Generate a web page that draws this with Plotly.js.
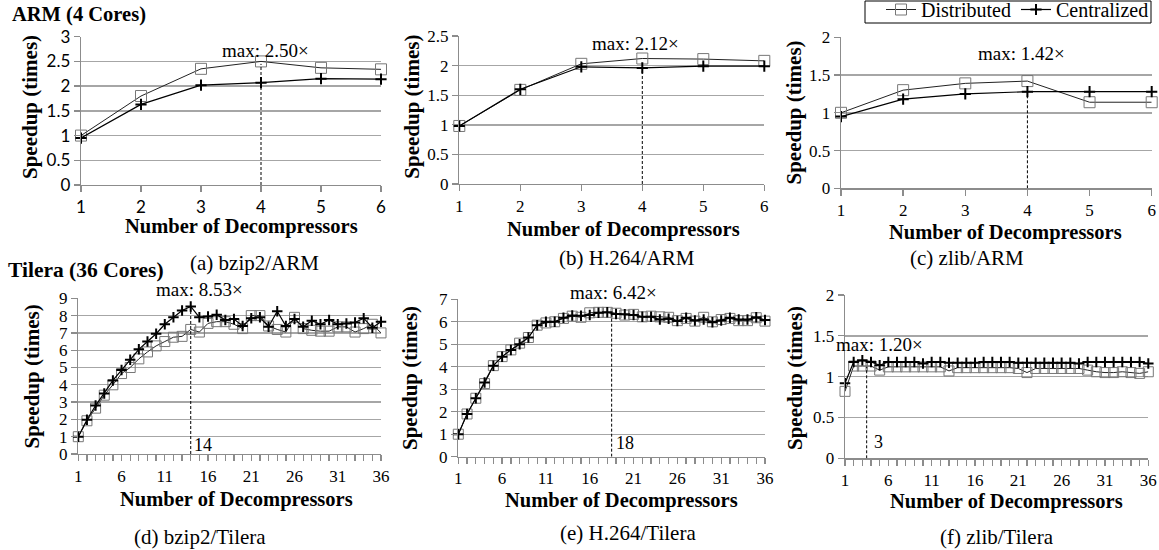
<!DOCTYPE html>
<html><head><meta charset="utf-8">
<script src="https://cdn.plot.ly/plotly-3.0.1.min.js"></script>
<style>html,body{margin:0;padding:0;background:#fff}#chart{width:1159px;height:550px}</style>
</head><body><div id="chart"></div>
<script>
// ---------- data ----------
const xArm = [1, 2, 3, 4, 5, 6];
const xTilera = [1,2,3,4,5,6,7,8,9,10,11,12,13,14,15,16,17,18,19,20,21,22,23,24,25,26,27,28,29,30,31,32,33,34,35,36];
const tileraTickVals = [1, 6, 11, 16, 21, 26, 31, 36];
const tileraTickText = ['1', '6', '11', '16', '21', '26', '31', '36'];

const bzip2ArmDist = [1.00, 1.80, 2.35, 2.50, 2.37, 2.34];
const bzip2ArmCent = [0.95, 1.63, 2.02, 2.07, 2.15, 2.14];
const h264ArmDist  = [0.98, 1.59, 2.03, 2.12, 2.11, 2.08];
const h264ArmCent  = [0.98, 1.60, 1.98, 1.96, 1.99, 1.99];
const zlibArmDist  = [1.00, 1.30, 1.39, 1.42, 1.14, 1.14];
const zlibArmCent  = [0.95, 1.18, 1.25, 1.28, 1.28, 1.28];

const bzip2TilDist = [1.00,1.92,2.65,3.40,4.00,4.65,5.00,5.50,5.90,6.25,6.50,6.75,6.80,7.20,7.05,7.55,7.65,7.65,7.50,7.25,8.00,8.00,7.40,7.20,7.05,7.90,7.25,7.15,7.10,7.10,7.35,7.35,7.05,7.25,7.50,7.00];
const bzip2TilCent = [1.00,1.98,2.80,3.50,4.25,4.85,5.45,6.05,6.50,6.95,7.50,7.90,8.30,8.53,7.90,7.95,8.05,7.75,7.80,7.40,7.85,7.90,7.35,8.25,7.40,7.80,7.35,7.70,7.50,7.75,7.50,7.55,7.60,7.85,7.30,7.65];
const h264TilDist  = [1.00,1.90,2.60,3.25,4.05,4.45,4.75,5.05,5.30,5.85,5.95,6.00,6.15,6.25,6.20,6.40,6.42,6.42,6.38,6.30,6.33,6.22,6.25,6.22,6.20,6.05,6.15,6.03,6.20,6.00,6.10,6.15,6.05,6.05,6.18,6.03];
const h264TilCent  = [1.00,1.90,2.60,3.30,4.05,4.45,4.75,5.00,5.30,5.85,6.00,6.00,6.18,6.28,6.27,6.30,6.40,6.42,6.35,6.33,6.30,6.22,6.22,6.10,6.13,6.03,6.18,6.06,6.10,5.98,6.06,6.18,6.10,6.10,6.20,6.08];
const zlibTilDist  = [0.82,1.13,1.13,1.13,1.08,1.12,1.12,1.12,1.12,1.12,1.12,1.12,1.07,1.11,1.11,1.11,1.11,1.11,1.11,1.11,1.10,1.05,1.10,1.10,1.10,1.10,1.10,1.10,1.08,1.06,1.05,1.05,1.06,1.05,1.04,1.06];
const zlibTilCent  = [0.92,1.18,1.20,1.18,1.14,1.18,1.18,1.18,1.18,1.16,1.18,1.18,1.17,1.17,1.17,1.17,1.18,1.18,1.18,1.18,1.17,1.17,1.17,1.17,1.17,1.17,1.17,1.16,1.18,1.18,1.18,1.18,1.18,1.18,1.18,1.16];

const panelTitles = ['(a) bzip2/ARM', '(b) H.264/ARM', '(c) zlib/ARM', '(d) bzip2/Tilera', '(e) H.264/Tilera', '(f) zlib/Tilera'];
const maxLabels = ['max: 2.50×', 'max: 2.12×', 'max: 1.42×', 'max: 8.53×', 'max: 6.42×', 'max: 1.20×'];
const maxAtX = [4, 4, 4, 14, 18.5, 3.5];
const maxLineTop = [2.45, 1.96, 1.26, 8.45, 6.3, 1.12];
const maxXLabels = [null, null, null, '14', '18', '3'];
const yMax = [3, 2.5, 2, 9, 7, 2];
const yStep = [0.5, 0.5, 0.5, 1, 1, 0.5];

// ---------- layout geometry (pixels) ----------
const W = 1159, H = 550;
const boxes = [
  {x0: 81,    x1: 381,    y0: 36.7,  y1: 185},
  {x0: 459.3, x1: 764.3,  y0: 36,    y1: 184},
  {x0: 841,   x1: 1151.7, y0: 37.3,  y1: 188.3},
  {x0: 78.3,  x1: 381,    y0: 298.3, y1: 454},
  {x0: 458.3, x1: 765,    y0: 299.3, y1: 456.7},
  {x0: 845,   x1: 1148.3, y0: 295,   y1: 458.3}
];
const px = v => v / W, py = v => 1 - v / H;

const SERIF = 'Liberation Serif';
const GRID = '#a6a6a6', AXIS = '#8c8c8c';

const series = [
  [xArm, bzip2ArmDist, bzip2ArmCent],
  [xArm, h264ArmDist, h264ArmCent],
  [xArm, zlibArmDist, zlibArmCent],
  [xTilera, bzip2TilDist, bzip2TilCent],
  [xTilera, h264TilDist, h264TilCent],
  [xTilera, zlibTilDist, zlibTilCent]
];

const data = [];
const layout = {
  width: W, height: H,
  margin: {l: 0, r: 0, t: 0, b: 0, autoexpand: false},
  paper_bgcolor: '#fff', plot_bgcolor: '#fff',
  showlegend: true,
  legend: {
    orientation: 'h', x: px(1154), xanchor: 'right', y: 1 + 10 / H, yanchor: 'top',
    borderwidth: 0, bgcolor: 'rgba(0,0,0,0)',
    font: {family: SERIF, size: 20, color: '#000'},
    itemwidth: 30, tracegroupgap: 0
  },
  annotations: [],
  shapes: [
    // legend frame
    {type: 'rect', xref: 'paper', yref: 'paper', x0: px(865), x1: px(1151), y0: py(23), y1: py(1),
     line: {color: '#000', width: 1}, fillcolor: 'rgba(0,0,0,0)', layer: 'above'}
  ]
};

series.forEach((s, i) => {
  const n = i + 1;
  const xa = 'x' + (n === 1 ? '' : n), ya = 'y' + (n === 1 ? '' : n);
  const isArm = i < 3;
  data.push({
    x: s[0], y: s[1], xaxis: xa, yaxis: ya, name: 'Distributed', legendgroup: 'd',
    showlegend: i === 0, mode: 'lines+markers', cliponaxis: false,
    line: {color: '#222', width: 1},
    marker: {symbol: 'square-open', size: isArm ? 11 : 10, color: '#777', line: {width: 1, color: '#777'}}
  });
  data.push({
    x: s[0], y: s[2], xaxis: xa, yaxis: ya, name: 'Centralized', legendgroup: 'c',
    showlegend: i === 0, mode: 'lines+markers', cliponaxis: false,
    line: {color: '#000', width: 1.2},
    marker: {symbol: 'cross-thin-open', size: isArm ? 8 : 7.5, color: '#000', line: {width: 2, color: '#000'}}
  });

  const b = boxes[i];
  const tickFont = (i === 0) ? {family: 'Lato', size: 17, color: '#000'}
                             : {family: SERIF, size: 17, color: '#000'};
  const xax = {
    domain: [px(b.x0), px(b.x1)], anchor: ya,
    showgrid: false, zeroline: false, showline: true, linecolor: AXIS, linewidth: 1.3,
    ticks: 'outside', ticklen: 6, tickcolor: AXIS, tickwidth: 1.3,
    tickfont: tickFont, fixedrange: true
  };
  if (isArm) {
    Object.assign(xax, {range: [1, 6], tickmode: 'linear', tick0: 1, dtick: 1});
  } else {
    Object.assign(xax, {range: [1, 36], tickmode: 'array', tickvals: tileraTickVals, ticktext: tileraTickText,
      minor: {tickmode: 'linear', tick0: 1, dtick: 1, ticks: 'outside', ticklen: 6, tickcolor: AXIS, tickwidth: 1.3, showgrid: false}});
  }
  const yax = {
    domain: [py(b.y1), py(b.y0)], anchor: xa,
    range: [0, yMax[i]], tickmode: 'linear', tick0: 0, dtick: yStep[i],
    showgrid: true, gridcolor: GRID, gridwidth: 1.4, zeroline: false,
    showline: true, linecolor: AXIS, linewidth: 1.3,
    ticks: 'outside', ticklen: 6, tickcolor: AXIS, tickwidth: 1.3,
    tickfont: tickFont, fixedrange: true
  };
  layout['xaxis' + (n === 1 ? '' : n)] = xax;
  layout['yaxis' + (n === 1 ? '' : n)] = yax;

  // max marker line
  layout.shapes.push({type: 'line', xref: xa, yref: ya, x0: maxAtX[i], x1: maxAtX[i], y0: 0, y1: maxLineTop[i],
    line: {color: '#000', width: 1, dash: '3px,2px'}});
});

// annotation placements (pixel coords)
const maxPos = [[265.7, 50], [635.7, 43.3], [1021.7, 54], [199.7, 289.3], [613, 292.7], [879, 344]];
const maxXPos = [null, null, null, [203.3, 445], [625, 443.3], [878.3, 441.7]];
const subPos = [[254, 263], [626.7, 258], [966.7, 258], [200, 537], [627.5, 533], [996.7, 537]];
const xTitlePos = [[241, 226], [623, 229], [1005, 232], [236.7, 499], [621.7, 500], [1006.7, 501]];
const yTitlePos = [[30, 107], [411.7, 107], [793, 112.5], [31.7, 376.7], [410, 378], [795, 378]];

const ann = (x, y, text, font, extra) => Object.assign({xref: 'paper', yref: 'paper', x: px(x), y: py(y),
  xanchor: 'center', yanchor: 'middle', text, showarrow: false, font}, extra || {});

for (let i = 0; i < 6; i++) {
  layout.annotations.push(ann(maxPos[i][0], maxPos[i][1], maxLabels[i], {family: SERIF, size: 19, color: '#000'}));
  if (maxXLabels[i]) layout.annotations.push(ann(maxXPos[i][0], maxXPos[i][1], maxXLabels[i], {family: SERIF, size: 18, color: '#000'}));
  layout.annotations.push(ann(subPos[i][0], subPos[i][1], panelTitles[i], {family: SERIF, size: 21, color: '#000'}));
  layout.annotations.push(ann(xTitlePos[i][0], xTitlePos[i][1], '<b>Number of Decompressors</b>', {family: SERIF, size: 20.5, color: '#000'}));
  layout.annotations.push(ann(yTitlePos[i][0], yTitlePos[i][1], '<b>Speedup (times)</b>', {family: SERIF, size: 21, color: '#000'}, {textangle: -90}));
}
layout.annotations.push(ann(10, 15, '<b>ARM (4 Cores)</b>', {family: SERIF, size: 20.5, color: '#000'}, {xanchor: 'left'}));
layout.annotations.push(ann(6, 270, '<b>Tilera (36 Cores)</b>', {family: SERIF, size: 21.5, color: '#000'}, {xanchor: 'left'}));

Plotly.newPlot('chart', data, layout, {displayModeBar: false, staticPlot: true});
</script></body></html>
